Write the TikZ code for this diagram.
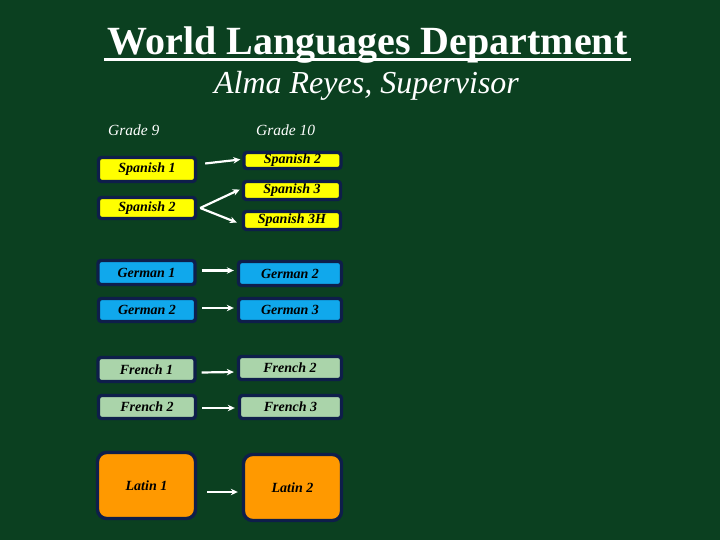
\documentclass[tikz,border=0pt]{standalone}
\usepackage{fontspec}
\setmainfont{Liberation Serif}
\usetikzlibrary{arrows.meta}
\definecolor{bgreen}{RGB}{11,64,32}
\definecolor{navy}{RGB}{14,30,74}
\definecolor{spyellow}{RGB}{255,255,0}
\definecolor{gerblue}{RGB}{16,168,236}
\definecolor{frgreen}{RGB}{170,212,170}
\definecolor{latorange}{RGB}{255,153,0}

\begin{document}
\begin{tikzpicture}[x=1pt, y=-1pt,
  course/.style={draw=navy, line width=3.4pt, rounded corners=3pt, minimum width=97pt, minimum height=22pt, inner sep=0pt, font=\fontsize{14}{16}\selectfont\bfseries\itshape, text=black},
  link/.style={white, line width=2.2pt, -{Stealth[length=7pt,width=6.5pt]}}]
\fill[bgreen] (0,0) rectangle (720,540);
\node[white, font=\fontsize{40}{44}\selectfont\bfseries, anchor=base] (title) at (367.5,55) {World Languages Department};
\draw[white, line width=2.8pt] ([yshift=-4.5pt]title.base west) -- ([yshift=-4.5pt]title.base east);
\node[white, font=\fontsize{32}{36}\selectfont\itshape, anchor=base] (boss) at (366.5,94) {Alma Reyes, Supervisor};
\node[white, font=\fontsize{15.5}{18}\selectfont\itshape, anchor=base west, inner sep=0pt] (gnine) at (108,136) {Grade 9};
\node[white, font=\fontsize{15.5}{18}\selectfont\itshape, anchor=base west, inner sep=0pt] (gten) at (256,136) {Grade 10};
% Spanish
\node[course, fill=spyellow, minimum height=24pt] (spa1) at (147,169.5) {Spanish 1};
\node[course, fill=spyellow, minimum height=21pt] (spa2) at (147,208) {Spanish 2};
\node[course, fill=spyellow, minimum height=16pt] (spb2) at (292.5,160.5) {Spanish 2};
\node[course, fill=spyellow, minimum height=18pt] (spb3) at (292,190.5) {Spanish 3};
\node[course, fill=spyellow, minimum height=18pt] (spb3h) at (292,220.5) {Spanish 3H};
\draw[link] ([shift={(8,-6)}]spa1.east) -- ([shift={(-2,-1)}]spb2.west);
\draw[link] ([xshift=3pt]spa2.east) -- ([shift={(-2,-1)}]spb3.west);
\draw[link] ([xshift=3pt]spa2.east) -- ([shift={(-5,2)}]spb3h.west);
% German
\node[course, fill=gerblue, minimum height=24pt] (ger1) at (146.5,272.5) {German 1};
\node[course, fill=gerblue, minimum height=23pt] (ger2) at (147,310) {German 2};
\node[course, fill=gerblue, minimum height=24pt, minimum width=103pt] (gerb2) at (290,273.5) {German 2};
\node[course, fill=gerblue, minimum height=23pt, minimum width=103pt] (gerb3) at (290,310) {German 3};
\draw[link] ([shift={(5,-2)}]ger1.east) -- ([shift={(-3,-3)}]gerb2.west);
\draw[link] ([shift={(5,-2)}]ger2.east) -- ([shift={(-3,-2)}]gerb3.west);
% French
\node[course, fill=frgreen, minimum height=24pt] (fre1) at (146.5,369.5) {French 1};
\node[course, fill=frgreen, minimum height=23pt] (fre2) at (147,407) {French 2};
\node[course, fill=frgreen, minimum height=23pt, minimum width=103pt] (freb2) at (290,368) {French 2};
\node[course, fill=frgreen, minimum height=23pt, minimum width=102pt] (freb3) at (290.5,407) {French 3};
\draw[link] ([shift={(5,3)}]fre1.east) -- ([shift={(-3,4)}]freb2.west);
\draw[link] ([shift={(5,1)}]fre2.east) -- ([shift={(-3,1)}]freb3.west);
% Latin
\node[course, fill=latorange, rounded corners=9pt, minimum height=66pt, minimum width=98pt] (lat1) at (146.5,485.5) {Latin 1};
\node[course, fill=latorange, rounded corners=9pt, minimum height=66pt, minimum width=98pt] (lat2) at (292.5,487.5) {Latin 2};
\draw[link] ([shift={(10,6.5)}]lat1.east) -- ([shift={(-4,4.5)}]lat2.west);
\end{tikzpicture}
\end{document}
